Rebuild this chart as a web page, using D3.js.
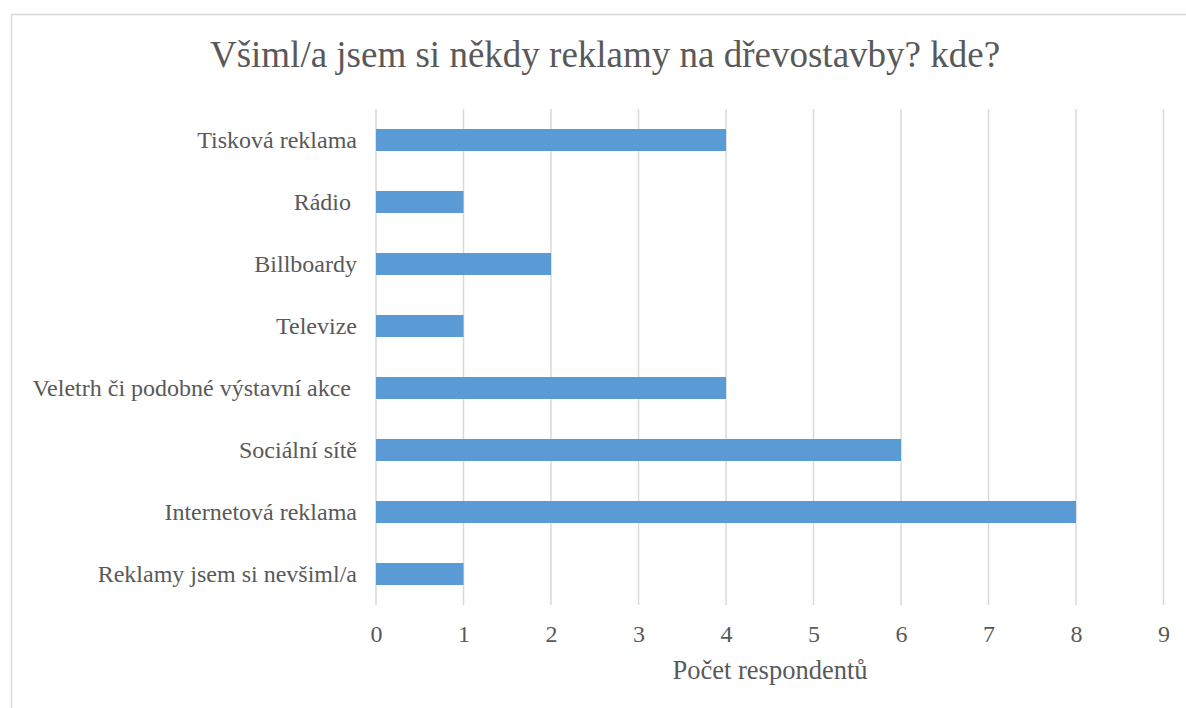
<!DOCTYPE html>
<html><head><meta charset="utf-8">
<script src="https://cdn.jsdelivr.net/npm/d3@7"></script>
<style>
html,body{margin:0;padding:0;background:#fff;}
svg{display:block;}
text{font-family:"Liberation Serif","Times New Roman",serif;fill:#595959;white-space:pre;}
</style></head>
<body>
<svg id="chart" width="1186" height="708"></svg>
<script>
const categories = ["Tisková reklama","Rádio ","Billboardy","Televize","Veletrh či podobné výstavní akce ","Sociální sítě","Internetová reklama","Reklamy jsem si nevšiml/a"];
const values = [4,1,2,1,4,6,8,1];
const xTicks = [0,1,2,3,4,5,6,7,8,9];
const title = "Všiml/a jsem si někdy reklamy na dřevostavby? kde?";
const xTitle = "Počet respondentů";

const svg = d3.select("#chart");
svg.append("rect").attr("x",11.5).attr("y",14.5).attr("width",1200).attr("height",720)
  .attr("fill","#fff").attr("stroke","#d9d9d9").attr("stroke-width",1.5);

const x = d3.scaleLinear().domain([0,9]).range([376,1163.5]);
const y = d3.scaleBand().domain(categories).range([109,605]).paddingInner(0.645).paddingOuter(0.3225);

svg.append("g").selectAll("line").data(xTicks).join("line")
  .attr("x1",d=>x(d)).attr("x2",d=>x(d)).attr("y1",109).attr("y2",605)
  .attr("stroke","#d9d9d9").attr("stroke-width",1.5);

svg.append("g").selectAll("rect").data(values).join("rect")
  .attr("x",x(0)).attr("y",(d,i)=>y(categories[i]))
  .attr("width",d=>x(d)-x(0)).attr("height",y.bandwidth())
  .attr("fill","#5b9bd5");

const xAxis = d3.axisBottom(x).tickValues(xTicks).tickSize(0).tickPadding(0).tickFormat(d3.format("d"));
const gx = svg.append("g").attr("transform","translate(0,625)").call(xAxis);
gx.select(".domain").remove();
gx.selectAll("text").attr("font-size","24px").attr("font-family","Liberation Serif").attr("fill","#595959").attr("dy","0.71em");

const yAxis = d3.axisLeft(y).tickSize(0).tickPadding(0);
const gy = svg.append("g").attr("transform","translate(357,0)").call(yAxis);
gy.select(".domain").remove();
gy.selectAll("text").attr("font-size","24px").attr("font-family","Liberation Serif").attr("fill","#595959").style("white-space","pre");

svg.append("text").attr("x",605).attr("y",67).attr("text-anchor","middle")
  .attr("font-size","37px").text(title);
svg.append("text").attr("x",770).attr("y",679).attr("text-anchor","middle")
  .attr("font-size","26.5px").text(xTitle);
</script>
</body></html>
